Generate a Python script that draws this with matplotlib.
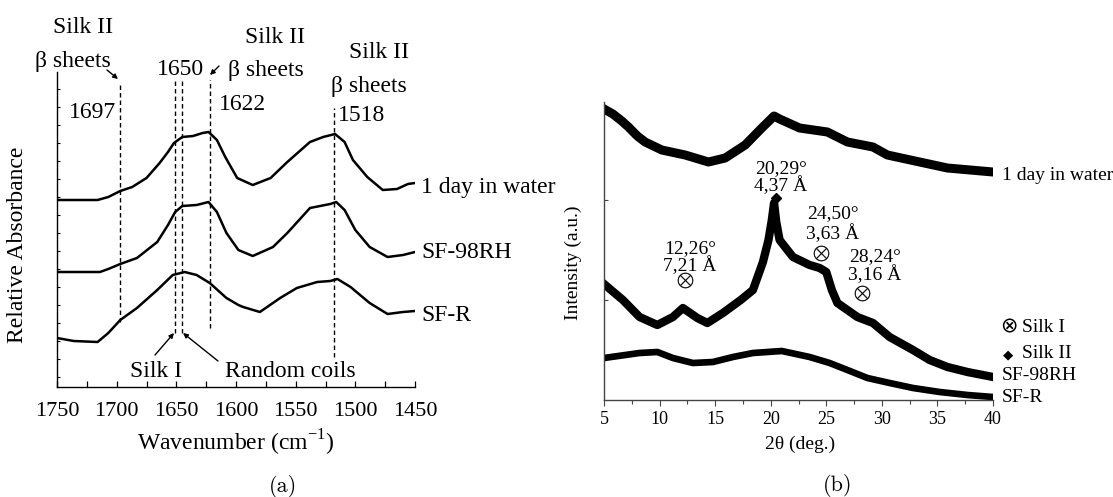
import matplotlib
matplotlib.use("Agg")
import matplotlib.pyplot as plt
import numpy as np

plt.rcParams['font.family'] = ['Liberation Serif', 'DejaVu Sans']
plt.rcParams['mathtext.fontset'] = 'custom'
plt.rcParams['mathtext.rm'] = 'Liberation Serif'

W, H = 1113, 497

# ---------------- Panel (a) FTIR data ----------------
wn_day = [1750, 1716, 1707, 1697, 1687, 1675, 1664, 1657, 1652, 1645, 1636, 1628, 1623,
          1616, 1609, 1599, 1586, 1571, 1557, 1538, 1527, 1517, 1509, 1502, 1490, 1477,
          1465, 1456, 1450]
abs_day = [187, 187, 190, 196, 200, 209, 224, 235, 244, 250, 251, 254, 255,
           247, 230, 209, 202, 209, 225, 245, 250, 253, 245, 227, 210, 197,
           198, 203, 204]

wn_rh = [1750, 1714, 1707, 1697, 1683, 1666, 1657, 1651, 1645, 1633, 1623, 1616, 1608,
         1598, 1586, 1569, 1557, 1538, 1521, 1516, 1509, 1500, 1488, 1473, 1460, 1450]
abs_rh = [115, 115, 118, 123, 129, 145, 162, 175, 181, 182, 185, 175, 154,
          137, 131, 140, 154, 179, 183, 185, 177, 157, 140, 130, 132, 135]

wn_r = [1750, 1736, 1716, 1707, 1697, 1683, 1666, 1653, 1643, 1633, 1622, 1608, 1598,
        1594, 1580, 1563, 1549, 1532, 1521, 1515, 1504, 1488, 1473, 1460, 1450]
abs_r = [49, 46, 45, 54, 67, 79, 97, 112, 115, 112, 104, 89, 82,
         80, 75, 89, 99, 105, 106, 108, 100, 84, 73, 75, 76]

ftir_names = ['1 day in water', 'SF-98RH', 'SF-R']
ftir_label_y = [193, 258, 321]   # baseline pixel of the end labels

# marker lines (wavenumber, top height, bottom height)
mark_wn = [1697, 1651, 1645, 1622, 1518]
mark_top = [304, 307, 307, 307, 279]
mark_bot = [65, 54, 54, 59, 30]

# ---------------- Panel (b) XRD data ----------------
th_day = [5, 5.8, 6.6, 7.2, 8.0, 8.7, 10.2, 12.3, 14.4, 15.9, 17.7, 19.2, 20.3, 20.8, 21.6,
          22.6, 25.1, 26.9, 29.2, 30.5, 33.4, 35.9, 40]
i_day = [291, 286, 279, 273, 264, 258, 250, 245, 238, 242, 255, 272, 284, 281, 277,
         272, 268, 258, 253, 245, 238, 232, 228]

th_rh = [5, 6.7, 8.2, 9.8, 11.2, 12.1, 13.4, 14.3, 15.7, 17.3, 18.4, 19.3, 19.8, 20.1,
         20.3, 20.5, 20.8, 22, 23.5, 24.4, 25.0, 25.5, 26, 27.8, 29.2, 30.7, 32.8,
         34.3, 35.9, 37.7, 40]
i_rh = [116, 100, 83, 75, 83, 92, 82, 77, 87, 100, 110, 138, 160, 180,
        197, 178, 160, 143, 135, 132, 128, 110, 97, 83, 77, 63, 50,
        40, 33, 28, 23]

th_r = [5, 8.2, 9.8, 11.2, 13, 14.8, 16.6, 18.4, 21, 23.5, 25.3, 26.9, 28.7, 30.7,
        32.8, 35.2, 37.7, 40]
i_r = [42, 47, 48, 42, 37, 38, 43, 47, 49, 43, 37, 30, 22, 17, 12, 8, 5, 3]

xrd_names = ['1 day in water', 'SF-98RH', 'SF-R']

# peaks: 2theta, height, angle label, d-spacing label, phase
peak_th = [12.26, 20.29, 24.50, 28.24]
peak_h = [120, 202, 147, 107]
peak_angle = ['12,26°', '20,29°', '24,50°', '28,24°']
peak_d = ['7,21 Å', '4,37 Å', '3,63 Å', '3,16 Å']
peak_phase = ['Silk I', 'Silk II', 'Silk I', 'Silk I']

fig = plt.figure(figsize=(W / 100, H / 100), dpi=100)

def fx(x):
    return x / W

def fy(y):
    return 1 - y / H

# ======== Panel (a) ========
axa = fig.add_axes([fx(57), fy(387), fx(415 - 57), (387 - 72) / H])
for wn, ab in [(wn_day, abs_day), (wn_rh, abs_rh), (wn_r, abs_r)]:
    axa.plot(wn, ab, color='black', lw=1.8, solid_joinstyle='round')
for w, t, b in zip(mark_wn, mark_top, mark_bot):
    axa.plot([w, w], [b, t], color='black', lw=1.0, linestyle=(0, (3.2, 2.2)))
axa.set_xlim(1750, 1450)
axa.set_ylim(0, 315)
axa.spines['top'].set_visible(False)
axa.spines['right'].set_visible(False)
for s in ['left', 'bottom']:
    axa.spines[s].set_linewidth(1.0)
axa.set_xticks(np.arange(1750, 1449, -50))
axa.set_xticks(np.arange(1725, 1450, -50), minor=True)
axa.set_yticks(np.arange(10, 315, 18))
axa.set_yticklabels([])
axa.tick_params(axis='x', which='both', direction='in', length=4, width=0.9,
                labelsize=16, pad=11)
axa.tick_params(axis='y', which='both', direction='in', length=2, width=0.8)

for name, yb in zip(ftir_names, ftir_label_y):
    fig.text(fx(421), fy(yb), name, fontsize=17, ha='left', va='baseline')

fig.text(fx(18), fy(245), 'Relative Absorbance', fontsize=17, rotation=90,
         ha='center', va='center')
fig.text(fx(236), fy(451), r'Wavenumber (cm$^{\mathregular{-1}}$)', fontsize=17,
         ha='center', va='baseline')
fig.text(fx(283), fy(492), '(a)', fontsize=16, family='cmr10', ha='center', va='baseline')

ann = [('Silk II', 83, 33), ('β sheets', 73, 67), ('1697', 92, 118), ('1650', 180, 75),
       ('Silk II', 275, 43), ('β sheets', 266, 76), ('1622', 242, 110),
       ('Silk II', 379, 58), ('β sheets', 369, 92), ('1518', 362, 121),
       ('Silk I', 156, 377), ('Random coils', 290, 377)]
for t, x, y in ann:
    fig.text(fx(x), fy(y), t, fontsize=17, ha='center', va='baseline')

arrows = [((107, 70), (118, 79)), ((219, 66), (210, 75)),
          ((155, 355), (174, 333)), ((218, 361), (183, 333))]
for (x0, y0), (x1, y1) in arrows:
    fig.add_artist(matplotlib.patches.FancyArrowPatch(
        (fx(x0), fy(y0)), (fx(x1), fy(y1)), transform=fig.transFigure,
        arrowstyle='-|>', mutation_scale=7, lw=1.0, color='black',
        shrinkA=0, shrinkB=0))

# ======== Panel (b) ========
axb = fig.add_axes([fx(604), fy(400), fx(993 - 604), (400 - 102) / H])
axb.plot(th_day, i_day, color='black', lw=6.5, solid_joinstyle='round')
axb.plot(th_rh, i_rh, color='black', lw=6.0, solid_joinstyle='round')
axb.plot(th_r, i_r, color='black', lw=4.8, solid_joinstyle='round')
axb.set_xlim(5, 40)
axb.set_ylim(0, 298)
axb.spines['top'].set_visible(False)
axb.spines['right'].set_visible(False)
for s in ['left', 'bottom']:
    axb.spines[s].set_linewidth(1.0)
    axb.spines[s].set_color('#444444')
axb.set_xticks(np.arange(5, 41, 5))
axb.set_xticks(np.arange(7.5, 40, 5), minor=True)
axb.set_yticks([100, 200])
axb.set_yticklabels([])
axb.tick_params(axis='x', which='major', direction='out', length=4, width=0.8,
                labelsize=13, pad=4, color='#444444')
axb.tick_params(axis='x', which='minor', direction='out', length=3, width=0.8,
                color='#444444')
axb.tick_params(axis='y', which='both', direction='in', length=3, width=0.8,
                color='#444444')

for th, h, ph in zip(peak_th, peak_h, peak_phase):
    if ph == 'Silk II':
        axb.plot([th + 0.15], [h], marker='D', color='black', markersize=5, clip_on=False)
    else:
        axb.plot([th], [h], marker=r'$\otimes$', color='black', markersize=11,
                 markeredgewidth=0.3, clip_on=False)

peak_text_pos = [(690, 253, 271), (781, 173, 191), (833, 218, 239), (875, 261, 280)]
for (x, ya, yd), a, d in zip(peak_text_pos, peak_angle, peak_d):
    fig.text(fx(x), fy(ya), a, fontsize=14, ha='center', va='baseline')
    fig.text(fx(x), fy(yd), d, fontsize=14, ha='center', va='baseline')

for name, yb in zip(xrd_names, [180, 380, 402]):
    fig.text(fx(1002), fy(yb), name, fontsize=14, ha='left', va='baseline')

fig.text(fx(1000), fy(332), '⊗', fontsize=15, family='DejaVu Sans', ha='left', va='baseline')
fig.text(fx(1022), fy(332), 'Silk I', fontsize=14, ha='left', va='baseline')
fig.text(fx(1003), fy(358), '◆', fontsize=9.5, family='DejaVu Sans', ha='left', va='baseline')
fig.text(fx(1022), fy(358), 'Silk II', fontsize=14, ha='left', va='baseline')

fig.text(fx(573), fy(263), 'Intensity (a.u.)', fontsize=14, rotation=90,
         ha='center', va='center')
fig.text(fx(800), fy(449), '2θ (deg.)', fontsize=14, ha='center', va='baseline')
fig.text(fx(838), fy(491), '(b)', fontsize=16, family='cmr10', ha='center', va='baseline')

fig.savefig('out.png', dpi=100)
